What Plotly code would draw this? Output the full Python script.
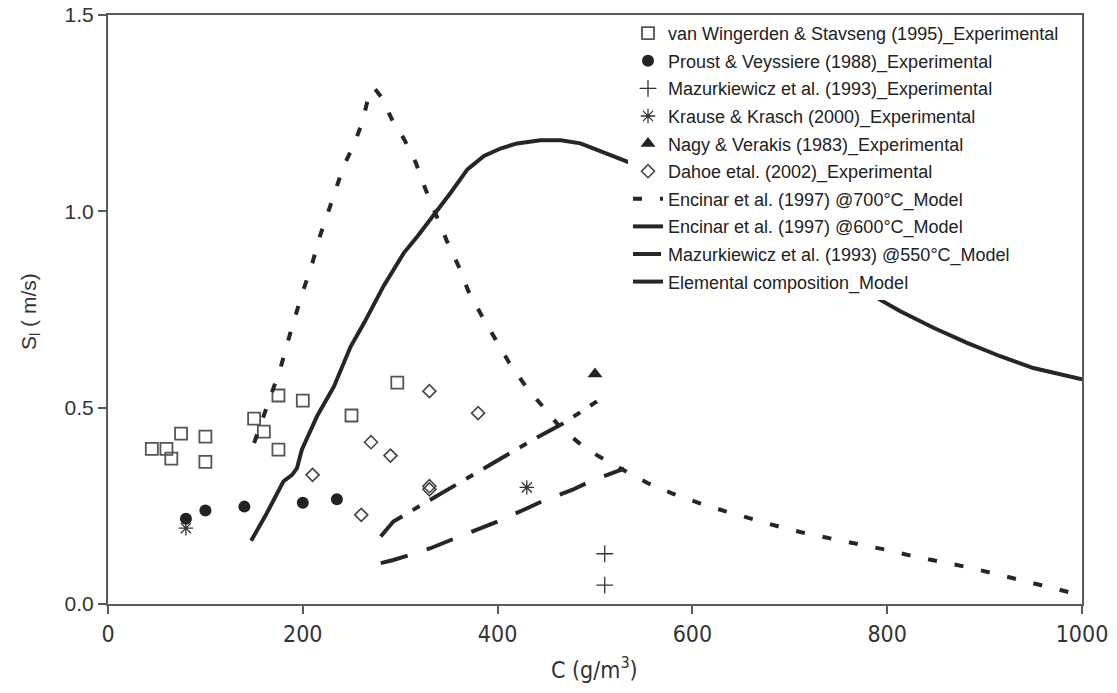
import plotly.graph_objects as go

# ---------------- data ----------------
vw_x = [45, 60, 65, 75, 100, 100, 150, 160, 175, 200, 175, 250, 297]
vw_y = [0.395, 0.395, 0.37, 0.434, 0.426, 0.362, 0.472, 0.439, 0.531, 0.518, 0.393, 0.48, 0.564]

pv_x = [80, 100, 140, 200, 235]
pv_y = [0.217, 0.238, 0.248, 0.258, 0.267]

mz_x = [510, 510]
mz_y = [0.128, 0.048]

kk_x = [80, 430]
kk_y = [0.193, 0.297]

nv_x = [500]
nv_y = [0.586]

dh_x = [210, 260, 270, 290, 330, 380, 330, 330]
dh_y = [0.329, 0.227, 0.412, 0.378, 0.542, 0.486, 0.300, 0.292]

e700_x = [150, 160, 169, 177, 186, 198, 210, 218, 227, 235, 242, 252, 261, 268, 273,
          281, 293, 304, 316, 326, 337, 348, 360, 370, 384, 398, 412, 429, 447, 465,
          488, 504, 530, 554, 579, 607, 634, 661, 689, 716, 744, 772, 799, 826, 855,
          882, 909, 937, 964, 992, 1000]
e700_y = [0.41, 0.478, 0.546, 0.60, 0.68, 0.78, 0.87, 0.94, 1.005, 1.065, 1.116, 1.167, 1.226, 1.298, 1.315,
          1.29, 1.226, 1.184, 1.124, 1.056, 0.988, 0.924, 0.86, 0.797, 0.733, 0.673, 0.614, 0.554, 0.499, 0.448,
          0.401, 0.376, 0.34, 0.308, 0.282, 0.257, 0.236, 0.216, 0.197, 0.18, 0.166, 0.15, 0.138, 0.122, 0.108,
          0.094, 0.078, 0.061, 0.046, 0.027, 0.022]

e600_x = [280, 293, 310, 328, 350, 372, 400, 420, 441, 468, 488, 502]
e600_y = [0.172, 0.21, 0.235, 0.261, 0.291, 0.325, 0.363, 0.393, 0.425, 0.461, 0.495, 0.516]

m550_x = [280, 293, 311, 331, 352, 379, 400, 427, 447, 477, 495, 530]
m550_y = [0.104, 0.112, 0.126, 0.142, 0.163, 0.189, 0.21, 0.24, 0.263, 0.291, 0.312, 0.345]

el_x = [147, 163, 180, 189, 194, 199, 215, 232, 249, 263, 283, 304, 318, 335, 352, 369, 386,
        403, 420, 444, 465, 485, 506, 514, 550, 600, 650, 700, 750, 780, 813, 848, 882, 916, 950, 1000]
el_y = [0.161, 0.231, 0.312, 0.329, 0.346, 0.393, 0.48, 0.554, 0.655, 0.716, 0.81, 0.895, 0.937, 0.992,
        1.048, 1.107, 1.141, 1.16, 1.173, 1.181, 1.181, 1.173, 1.154, 1.145, 1.11, 1.05, 0.985, 0.915,
        0.84, 0.793, 0.746, 0.703, 0.665, 0.631, 0.601, 0.572]

names = [
    "van Wingerden & Stavseng (1995)_Experimental",
    "Proust & Veyssiere (1988)_Experimental",
    "Mazurkiewicz et al. (1993)_Experimental",
    "Krause & Krasch (2000)_Experimental",
    "Nagy & Verakis (1983)_Experimental",
    "Dahoe etal. (2002)_Experimental",
    "Encinar et al. (1997) @700°C_Model",
    "Encinar et al. (1997) @600°C_Model",
    "Mazurkiewicz et al. (1993) @550°C_Model",
    "Elemental composition_Model",
]

x_ticks = [0, 200, 400, 600, 800, 1000]
y_ticks = [0.0, 0.5, 1.0, 1.5]

LINE = "#262626"
NARROW = "DejaVu Sans Condensed, Liberation Sans Narrow, Arial Narrow, Liberation Sans, Arial"

fig = go.Figure()

def mk(x, y, name, symbol, size, color, lw=1.5, g=0):
    fig.add_trace(go.Scatter(
        x=x, y=y, mode="markers", name=name, legendgroup=f"g{g}",
        marker=dict(symbol=symbol, size=size, color=color, line=dict(color=color, width=lw)),
    ))

mk(vw_x, vw_y, names[0], "square-open", 12, "#555555", 1.8, 0)
mk(pv_x, pv_y, names[1], "circle", 12, "#222222", 0, 1)
mk(mz_x, mz_y, names[2], "cross-thin-open", 12, "#333333", 1.3, 2)
mk(kk_x, kk_y, names[3], "asterisk-open", 12, "#333333", 1.3, 3)
mk(nv_x, nv_y, names[4], "triangle-up", 13, "#222222", 0, 4)
mk(dh_x, dh_y, names[5], "diamond-open", 10, "#444444", 1.6, 5)

def ln(x, y, name, dash, g):
    fig.add_trace(go.Scatter(
        x=x, y=y, mode="lines", name=name, legendgroup=f"g{g}",
        line=dict(color=LINE, width=4, dash=dash),
    ))

ln(e700_x, e700_y, names[6], "9px,18px", 6)
ln(e600_x, e600_y, names[7], "30px,12px,8px,12px", 7)
ln(m550_x, m550_y, names[8], "28px,20px", 8)
ln(el_x, el_y, names[9], "solid", 9)

L, R, T, B = 108, 35, 15, 89
W, H = 1117, 693
pw = W - L - R
ph = H - T - B

fig.update_layout(
    width=W, height=H,
    margin=dict(l=L, r=R, t=T, b=B, autoexpand=False),
    paper_bgcolor="white", plot_bgcolor="white",
    showlegend=True,
    legend=dict(
        x=(628 - L) / pw, y=1.0, xanchor="left", yanchor="top",
        bgcolor="white", borderwidth=0,
        font=dict(family="Liberation Sans, Arial, sans-serif", size=18, color="#222222"),
        tracegroupgap=1.2, itemwidth=30,
    ),
    font=dict(family="Liberation Sans, Arial, sans-serif", color="#333333"),
)

fig.update_xaxes(
    range=[0, 1000], tickvals=x_ticks, ticktext=[str(v) for v in x_ticks],
    showgrid=False, zeroline=False,
    showline=True, linecolor="#5a5a5a", linewidth=2, mirror=True,
    ticks="outside", ticklen=8, tickwidth=1.5, tickcolor="#5a5a5a",
    tickfont=dict(family=NARROW, size=23, color="#333333"),
)
fig.update_yaxes(
    range=[0, 1.5], tickvals=y_ticks, ticktext=["0.0", "0.5", "1.0", "1.5"],
    showgrid=False, zeroline=False,
    showline=True, linecolor="#5a5a5a", linewidth=2, mirror=True,
    ticks="outside", ticklen=8, tickwidth=1.5, tickcolor="#5a5a5a",
    tickfont=dict(family="Liberation Sans, Arial, sans-serif", size=21, color="#333333"),
)

fig.add_annotation(
    text="S<sub>l</sub> ( m/s)", xref="paper", yref="paper",
    x=(30 - L) / pw, y=(604 - 312) / ph, xanchor="center", yanchor="middle",
    textangle=-90, showarrow=False,
    font=dict(family="Liberation Sans, Arial, sans-serif", size=21, color="#333333"),
)
fig.add_annotation(
    text="C (g/m<sup>3</sup>)", xref="paper", yref="paper",
    x=(594 - L) / pw, y=(604 - 668) / ph, xanchor="center", yanchor="middle",
    showarrow=False,
    font=dict(family=NARROW, size=23, color="#333333"),
)

fig.write_html("out.html")
